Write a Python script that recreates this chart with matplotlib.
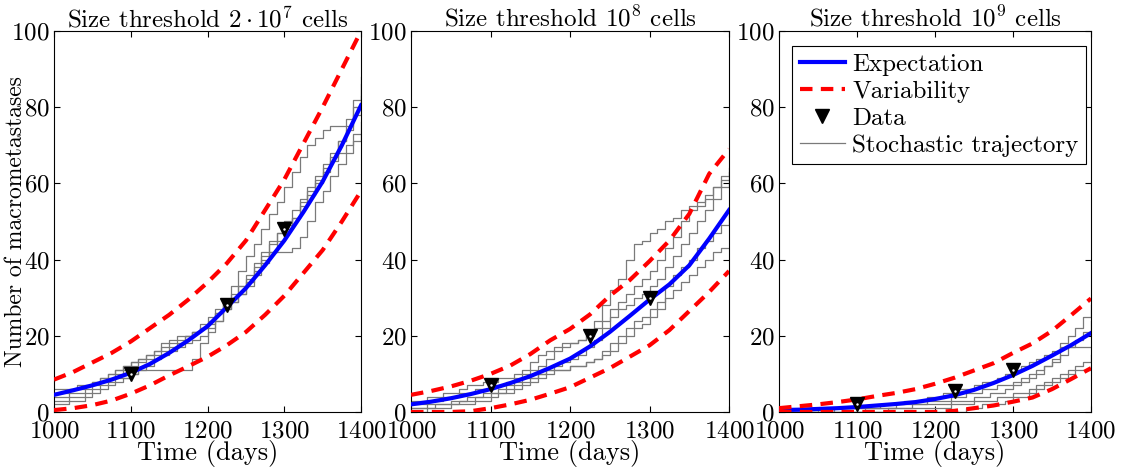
import numpy as np
import matplotlib
matplotlib.use('Agg')
import matplotlib.pyplot as plt

plt.rcParams['font.family'] = 'cmr10'
plt.rcParams['mathtext.fontset'] = 'cm'
plt.rcParams['axes.formatter.use_mathtext'] = True

# smooth curves sampled every 25 days
t_curve = [1000, 1025, 1050, 1075, 1100, 1125, 1150, 1175, 1200, 1225, 1250, 1275, 1300, 1325, 1350, 1375, 1400]
exp1 = [4.5, 5.7, 7.0, 8.5, 10.3, 12.6, 15.5, 18.8, 22.5, 27.5, 32.5, 38.5, 45, 52.5, 60.5, 70, 80.5]
up1 = [8.5, 10.5, 13, 15.5, 18.5, 22, 25.5, 29.5, 34, 39, 45, 53, 61, 70.5, 80, 90, 100]
lo1 = [0.5, 1, 1.8, 3, 4.8, 7, 9.6, 12, 14.5, 17.5, 21, 25.5, 30.5, 36.5, 42.5, 50, 58]
exp2 = [2, 2.7, 3.6, 4.7, 6, 7.6, 9.4, 11.6, 14, 17.2, 21, 25.2, 29.5, 33.5, 38.5, 45.5, 53]
up2 = [4.5, 5.5, 6.7, 8.2, 10, 12.2, 15.2, 18.8, 21.8, 25.6, 30.5, 34.6, 39.6, 45, 52, 62.5, 69]
lo2 = [0, 0, 0, 0.2, 1, 2, 3.2, 4.8, 6.5, 9, 11.5, 14.5, 17.5, 21.5, 26.5, 31.5, 37]
exp3 = [0.5, 0.6, 0.8, 1.0, 1.3, 1.7, 2.1, 2.6, 3.4, 4.4, 5.8, 7.6, 9.7, 12.1, 14.8, 17.6, 20.7]
up3 = [1.0, 1.5, 2.0, 2.6, 3.3, 4.2, 5.0, 6.0, 7.4, 9.0, 10.9, 12.8, 15.5, 18.0, 21.3, 25.5, 29.8]
lo3 = [0, 0, 0, 0, 0, 0, 0, 0, 0, 0.3, 1.0, 1.7, 2.7, 3.8, 6.0, 8.7, 11.5]

# observed data
t_data = [1100, 1225, 1300]
data1 = [10, 28, 48]
data2 = [7, 20, 30]
data3 = [2, 5.5, 11]

# stochastic trajectories, value every 10 days from 1000 to 1400
t_traj = list(range(1000, 1401, 10))
traj1 = [
    [5,5,6,6,7,8,9,10,11,12,13,14,15,16,18,19,20,20,21,22,23,26,29,33,37,41,44,48,52,55,59,63,67,70,72,74,75,75,77,82,88],
    [2,2,3,3,4,5,6,7,8,9,10,11,11,11,11,11,11,11,14,18,21,24,27,29,31,33,36,39,42,45,48,51,55,58,61,64,67,71,75,80,86],
    [3,3,4,4,5,6,7,8,9,9,10,11,12,14,15,16,17,18,19,20,22,24,27,29,31,34,37,40,42,42,42,43,46,50,55,58,62,65,68,71,73],
    [4,4,5,5,6,7,8,9,10,11,12,13,14,15,16,17,18,20,21,22,24,26,28,30,33,35,38,41,44,47,50,53,56,59,62,65,68,71,74,78,83],
    [6,6,6,7,7,8,9,10,11,12,13,14,15,16,17,18,19,20,21,23,25,27,29,31,33,36,39,42,45,47,49,51,54,57,60,63,66,68,70,73,76],
]
traj2 = [
    [3,3,4,4,5,5,6,7,7,8,8,9,9,10,11,13,15,16,17,18,18,19,21,24,28,32,35,40,44,45,47,48,50,51,53,54,54,56,59,62,64],
    [2,2,3,3,4,4,5,5,6,6,7,7,8,9,10,11,12,14,16,17,18,19,20,22,24,27,29,31,33,35,37,40,43,46,50,53,55,57,59,61,63],
    [1,1,2,2,2,3,3,4,4,5,5,6,7,8,9,9,10,11,12,13,14,15,17,19,22,25,27,28,30,31,33,35,38,41,44,47,50,53,56,59,61],
    [0,0,1,1,1,2,2,2,3,3,4,5,5,6,7,8,9,10,11,11,12,12,13,14,16,18,20,22,24,25,27,29,33,36,38,40,43,45,47,49,52],
    [1,1,1,2,2,2,3,3,4,4,5,5,6,7,8,9,10,11,11,11,12,12,13,14,15,16,18,20,22,23,25,27,30,32,34,36,38,40,42,43,43],
]
traj3 = [
    [0,0,0,0,0,1,1,1,1,1,1,1,1,2,2,2,3,3,3,4,4,5,5,6,6,7,8,8,9,10,11,12,13,14,15,16,18,20,22,25,28],
    [0,0,0,0,0,0,0,1,1,1,1,1,1,1,1,2,2,2,2,3,3,3,4,4,5,5,6,6,7,7,8,9,10,11,12,13,15,17,19,21,24],
    [0,0,0,0,0,0,0,0,0,0,0,1,1,1,1,1,1,2,2,2,2,2,3,3,3,4,4,5,5,6,7,8,9,10,12,14,17,17,17,17,17],
    [0,0,0,0,0,0,0,0,0,0,0,0,0,0,1,1,1,1,1,1,1,1,2,2,2,3,3,3,4,4,5,5,6,7,8,9,10,11,12,13,15],
    [0,0,0,0,0,0,0,0,0,0,0,0,0,0,0,0,0,0,0,0,0,0,0,0,1,1,2,2,2,3,4,4,5,6,7,8,9,10,11,11,12],
]

titles = [r'Size threshold $2\cdot10^7$ cells', r'Size threshold $10^8$ cells', r'Size threshold $10^9$ cells']
xticks = [1000, 1100, 1200, 1300, 1400]
yticks = [0, 20, 40, 60, 80, 100]

panels = [(exp1, up1, lo1, data1, traj1), (exp2, up2, lo2, data2, traj2), (exp3, up3, lo3, data3, traj3)]
boxes = [[0.0481, 0.1178, 0.2734, 0.8158], [0.366, 0.1178, 0.2832, 0.8158], [0.6937, 0.1178, 0.2778, 0.8158]]

fig = plt.figure(figsize=(11.23, 4.67), dpi=100)
for k in range(3):
    e, u, l, d, tr = panels[k]
    ax = fig.add_axes(boxes[k])
    for i, y in enumerate(tr):
        ax.plot(t_traj, y, drawstyle='steps-post', color='#7a7a7a', lw=0.9,
                label='Stochastic trajectory' if i == 0 else None, zorder=2)
    ax.plot(t_curve, e, color='#0000ff', lw=3, label='Expectation', zorder=3)
    ax.plot(t_curve, u, color='#ff0000', lw=3, ls=(0, (3, 2)), label='Variability', zorder=3)
    ax.plot(t_curve, l, color='#ff0000', lw=3, ls=(0, (3, 2)), zorder=3)
    ax.plot(t_data, d, 'v', color='k', ms=10, label='Data', zorder=4)
    ax.plot(t_data, d, '.', color='w', ms=1.5, zorder=5)
    ax.set_xlim(1000, 1400)
    ax.set_ylim(0, 100)
    ax.set_xticks(xticks)
    ax.set_yticks(yticks)
    ax.tick_params(direction='in', top=True, right=True, labelsize=18, length=4)
    ax.tick_params(axis='x', pad=6)
    ax.tick_params(axis='y', pad=3)
    ax.set_title(titles[k], fontsize=18, pad=3)
    ax.set_xlabel('Time (days)', fontsize=19, labelpad=-2)
    if k == 0:
        ax.set_ylabel('Number of macrometastases', fontsize=17)
        ax.yaxis.set_label_coords(-0.088, 0.5)
    if k == 2:
        h, lab = ax.get_legend_handles_labels()
        order = [lab.index(n) for n in ['Expectation', 'Variability', 'Data', 'Stochastic trajectory']]
        leg = ax.legend([h[i] for i in order], [lab[i] for i in order], loc='upper right',
                        bbox_to_anchor=(0.984, 0.961), borderaxespad=0,
                        fontsize=18, fancybox=False, edgecolor='k', framealpha=1,
                        handlelength=1.8, handletextpad=0.3, borderpad=0.3, labelspacing=0.18)
        leg.get_frame().set_linewidth(0.8)

fig.savefig('out.png', dpi=100)
